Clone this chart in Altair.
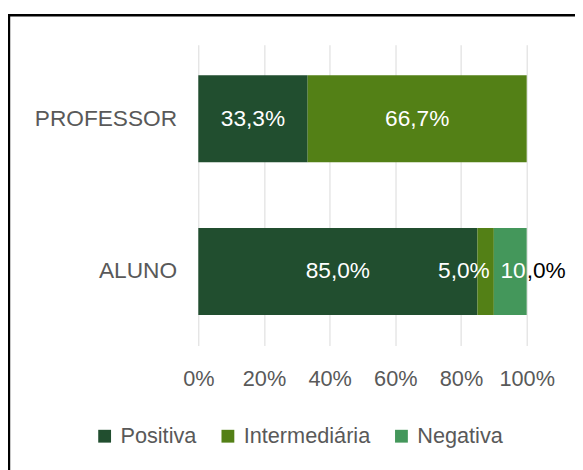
import altair as alt
import pandas as pd

categories = ["PROFESSOR", "ALUNO"]
series = ["Positiva", "Intermediária", "Negativa"]
positiva = [33.3, 85.0]
intermediaria = [66.7, 5.0]
negativa = [0.0, 10.0]
x_ticks = [0, 20, 40, 60, 80, 100]
colors = ["#214E2F", "#538016", "#44975B"]

rows = []
for s_i, (s, vals) in enumerate(zip(series, [positiva, intermediaria, negativa])):
    for c, v in zip(categories, vals):
        if v > 0:
            rows.append({"cat": c, "serie": s, "ord": s_i, "value": v,
                         "label": f"{v:.1f}".replace(".", ",") + "%"})
df = pd.DataFrame(rows)

FONT = "Liberation Sans"
GRAY = "#595959"

base = alt.Chart(df).transform_stack(
    stack="value", groupby=["cat"], as_=["v0", "v1"], sort=[alt.SortField("ord")]
).transform_calculate(mid="(datum.v0 + datum.v1) / 2")

y_enc = alt.Y("cat:N", sort=categories, title=None,
              scale=alt.Scale(paddingInner=0.43, paddingOuter=0.2),
              axis=alt.Axis(labelFont=FONT, labelFontSize=23, labelColor=GRAY,
                            labelPadding=22, ticks=False, domain=False,
                            labelFontWeight="normal"))

bars = base.mark_bar().encode(
    x=alt.X("v0:Q", title=None,
            scale=alt.Scale(domain=[0, 100], nice=False),
            axis=alt.Axis(values=x_ticks, labelExpr="datum.value + '%'",
                          labelFont=FONT, labelFontSize=22, labelColor=GRAY,
                          labelPadding=24, ticks=False, domain=False,
                          labelFlush=False, labelOverlap=False,
                          grid=True, gridColor="#D9D9D9", gridWidth=1)),
    x2="v1:Q",
    y=y_enc,
    color=alt.Color("serie:N", sort=series,
                    scale=alt.Scale(domain=series, range=colors),
                    legend=alt.Legend(title=None, orient="none", direction="horizontal",
                                      legendX=-106, legendY=386,
                                      symbolType="square", symbolSize=169,
                                      symbolStrokeWidth=0, labelFont=FONT,
                                      labelFontSize=22, labelColor=GRAY,
                                      labelOffset=5, columnPadding=20)),
)

txt_common = dict(font=FONT, fontSize=23, baseline="middle")

centered = base.transform_filter(
    "!(datum.cat == 'ALUNO' && datum.serie != 'Positiva')"
).mark_text(color="white", align="center", **txt_common).encode(
    x="mid:Q", y=alt.Y("cat:N", sort=categories), text="label:N")

small_mid = base.transform_filter(
    "datum.cat == 'ALUNO' && datum.serie == 'Intermediária'"
).mark_text(color="white", align="center", dx=-22, **txt_common).encode(
    x="mid:Q", y=alt.Y("cat:N", sort=categories), text="label:N")

neg_in = base.transform_filter(
    "datum.cat == 'ALUNO' && datum.serie == 'Negativa'"
).transform_calculate(part="split(datum.label, ',')[0]").mark_text(
    color="white", align="right", dx=-1, **txt_common).encode(
    x="v1:Q", y=alt.Y("cat:N", sort=categories), text="part:N")

neg_out = base.transform_filter(
    "datum.cat == 'ALUNO' && datum.serie == 'Negativa'"
).transform_calculate(part="',' + split(datum.label, ',')[1]").mark_text(
    color="black", align="left", dx=0, **txt_common).encode(
    x="v1:Q", y=alt.Y("cat:N", sort=categories), text="part:N")

frame = alt.Chart(alt.Data(values=[{}])).mark_rect(
    fill="transparent", stroke="black", strokeWidth=2.5
).encode(x=alt.value(-192), x2=alt.value(700), y=alt.value(-30), y2=alt.value(700))

chart = alt.layer(bars, centered, small_mid, neg_in, neg_out, frame).properties(
    width=333, height=305,
    autosize=alt.AutoSizeParams(type="none"),
    padding={"left": 193, "top": 34, "right": 49, "bottom": 123},
    background="white",
).configure_view(stroke=None)

chart.save("out.html", embed_options={"renderer": "svg", "actions": False})
